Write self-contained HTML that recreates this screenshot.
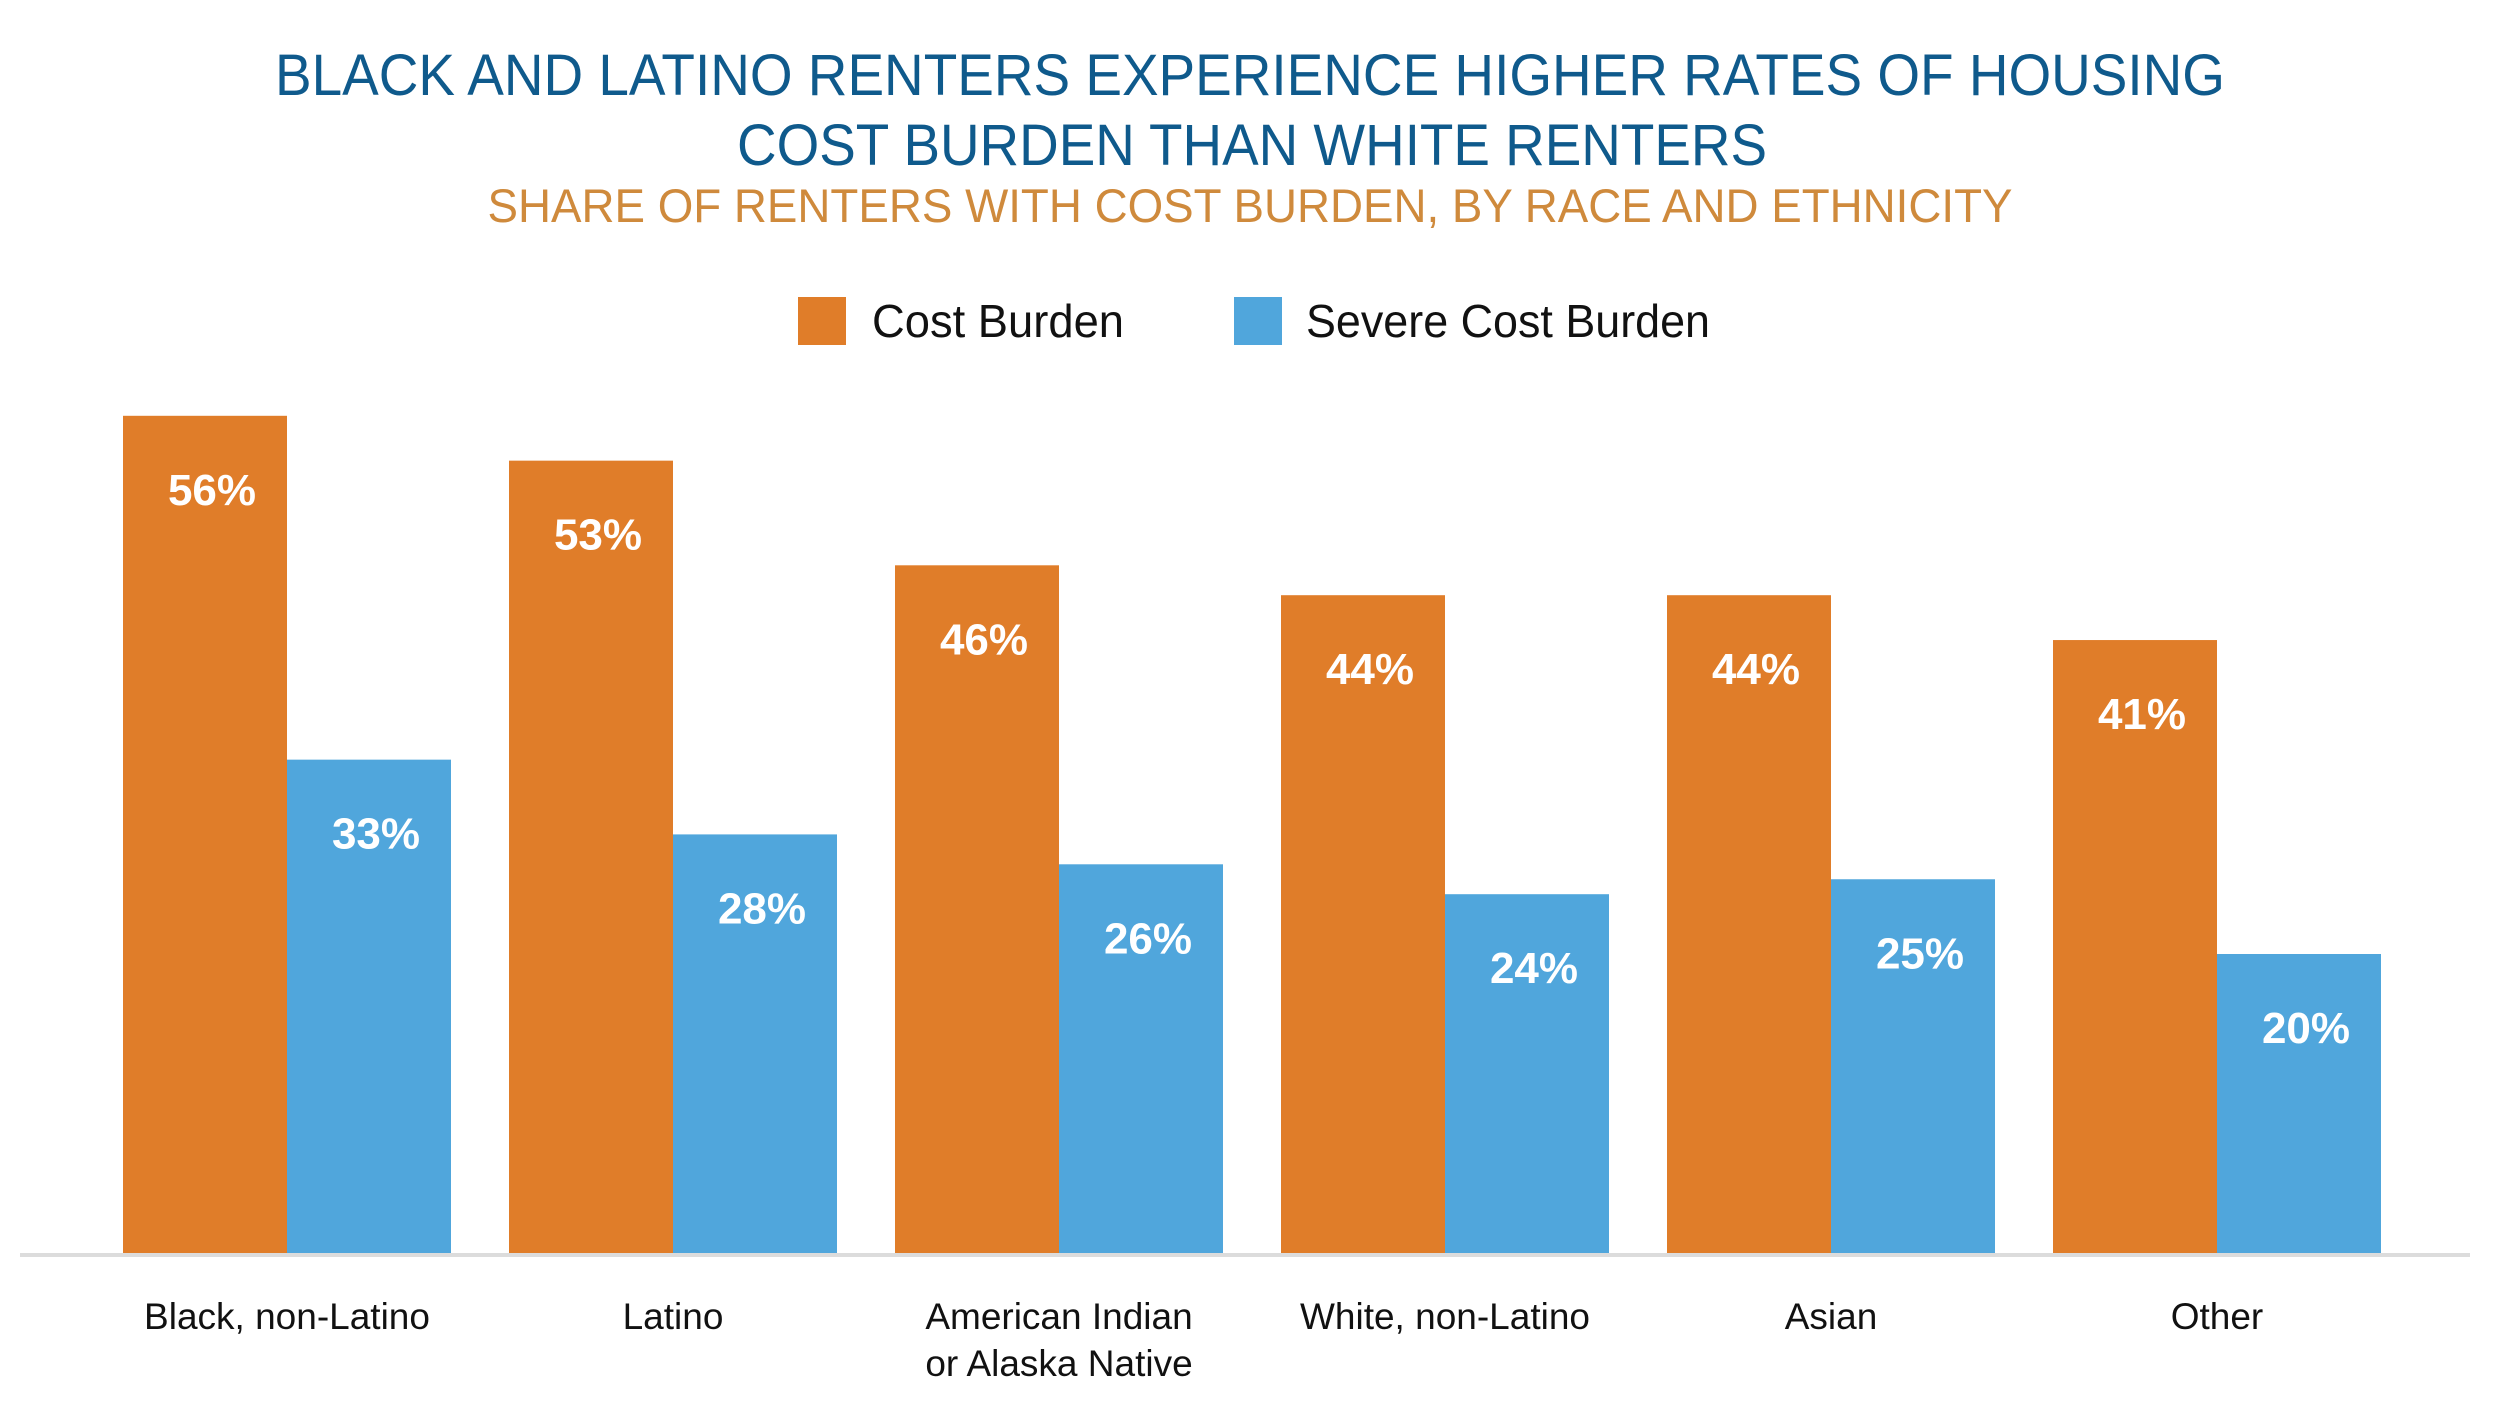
<!DOCTYPE html>
<html><head><meta charset="utf-8"><style>
html,body{margin:0;padding:0;background:#fff;}
svg{display:block;font-family:"Liberation Sans",sans-serif;}
</style></head><body>
<svg id="chart" width="2500" height="1406" viewBox="0 0 2500 1406">
<text x="1250" y="95" text-anchor="middle" font-size="58" fill="#0f5a8c" textLength="1950" lengthAdjust="spacingAndGlyphs">BLACK AND LATINO RENTERS EXPERIENCE HIGHER RATES OF HOUSING</text>
<text x="1252" y="165" text-anchor="middle" font-size="58" fill="#0f5a8c" textLength="1030" lengthAdjust="spacingAndGlyphs">COST BURDEN THAN WHITE RENTERS</text>
<text x="1250" y="222" text-anchor="middle" font-size="47" fill="#cf8a3c" textLength="1525" lengthAdjust="spacingAndGlyphs">SHARE OF RENTERS WITH COST BURDEN, BY RACE AND ETHNICITY</text>
<g>
<rect x="798" y="297" width="48" height="48" fill="#e07d29"/>
<text x="872" y="337" font-size="46" fill="#111" textLength="252" lengthAdjust="spacingAndGlyphs">Cost Burden</text>
<rect x="1234" y="297" width="48" height="48" fill="#50a6dc"/>
<text x="1306" y="337" font-size="46" fill="#111" textLength="404" lengthAdjust="spacingAndGlyphs">Severe Cost Burden</text>
</g>
<g id="bars"></g>
<line x1="20" y1="1255" x2="2470" y2="1255" stroke="#dcdcdc" stroke-width="4"/>
<g id="xlabels"></g>
</svg>
<script>
const categories = [["Black, non-Latino"],["Latino"],["American Indian","or Alaska Native"],["White, non-Latino"],["Asian"],["Other"]];
const costBurden = [56, 53, 46, 44, 44, 41];
const severeBurden = [33, 28, 26, 24, 25, 20];
const valueLabelsA = ["56%","53%","46%","44%","44%","41%"];
const valueLabelsB = ["33%","28%","26%","24%","25%","20%"];

const NS = "http://www.w3.org/2000/svg";
const baseY = 1253, pxPer = 14.95, left0 = 123, step = 386, bw = 164;
function y(v){ return baseY - v * pxPer; }
function xBand(i){ return left0 + i * step; }
const bars = document.getElementById('bars');
const xl = document.getElementById('xlabels');
function mk(tag, attrs, parent){
  const e = document.createElementNS(NS, tag);
  for (const k in attrs) e.setAttribute(k, attrs[k]);
  parent.appendChild(e);
  return e;
}
categories.forEach((c, i) => {
  const x = xBand(i);
  const series = [[costBurden[i], valueLabelsA[i], "#e07d29", "cost-burden"], [severeBurden[i], valueLabelsB[i], "#50a6dc", "severe-cost-burden"]];
  series.forEach((s, j) => {
    const bx = x + j * bw;
    const r = mk('rect', {x: bx, y: y(s[0]), width: bw, height: baseY - y(s[0]), fill: s[2]}, bars);
    
    
    const t = mk('text', {x: bx + bw / 2 + 7, y: y(s[0]) + 89, 'text-anchor': 'middle', 'font-size': 44, 'font-weight': 'bold', fill: '#fff'}, bars);
    t.textContent = s[1];
    
    
  });
  c.forEach((line, k) => {
    const t = mk('text', {x: x + bw, y: 1329 + k * 47, 'text-anchor': 'middle', 'font-size': 37, fill: '#111'}, xl);
    t.textContent = line;
    
    
  });
});
</script>
</body></html>
